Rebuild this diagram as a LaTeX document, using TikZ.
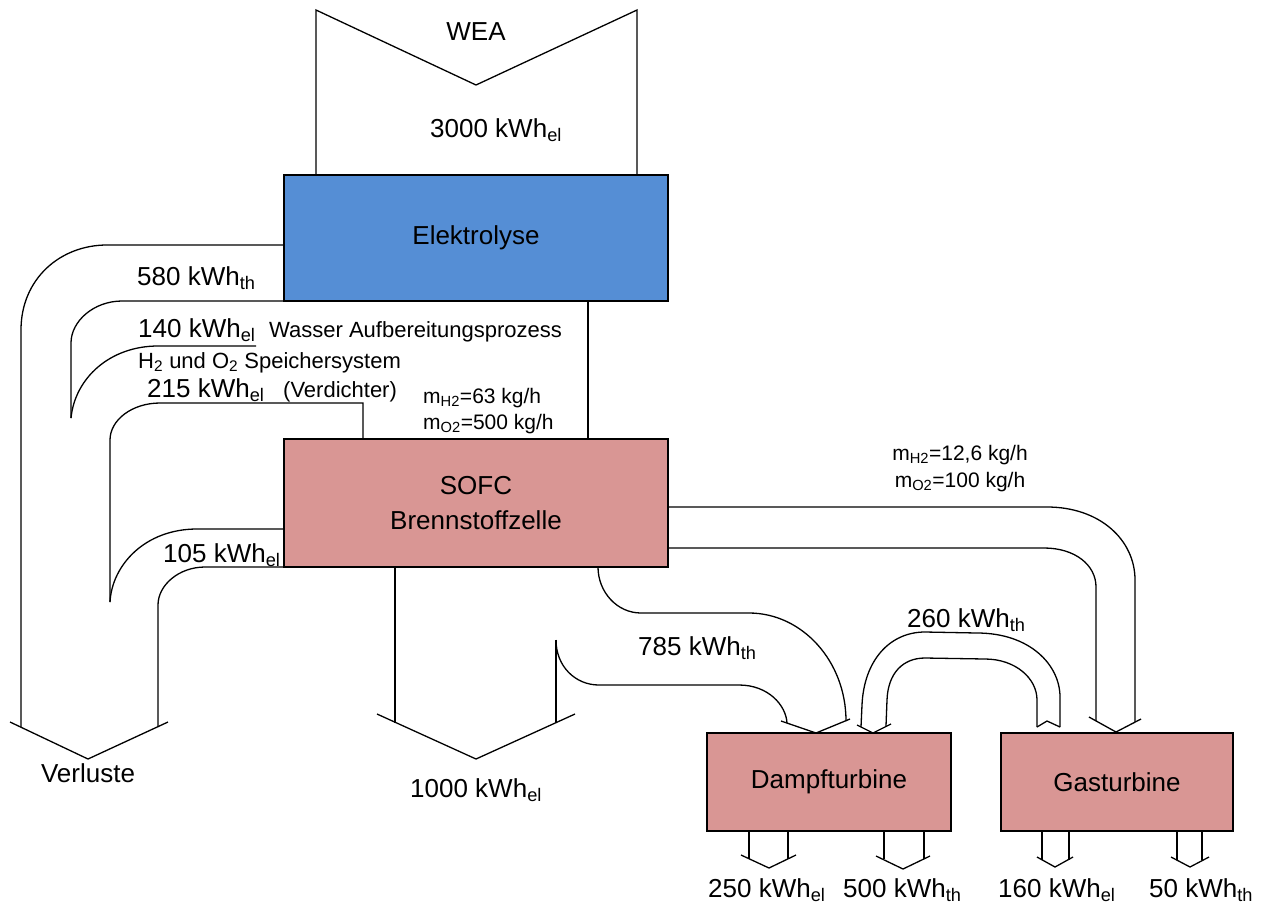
\documentclass[tikz,border=0pt]{standalone}
\usepackage{fontspec}
\setmainfont{Liberation Sans}
\definecolor{elblue}{RGB}{85,142,213}
\definecolor{sofcred}{RGB}{217,150,148}
\newcommand\kwhsub[1]{kWh\textsubscript{#1}}
\tikzset{
  ln/.style={line width=1.3pt, line join=miter},
  procbox/.style={draw, line width=1.3pt, anchor=north west, inner sep=0pt, outer sep=0pt,
    align=center, font=\fontsize{26}{35}\selectfont},
  big/.style={font=\fontsize{26}{30}\selectfont, inner sep=0pt, anchor=base west},
  mid/.style={font=\fontsize{22}{26}\selectfont, inner sep=0pt, anchor=base west},
  small/.style={font=\fontsize{21}{25}\selectfont, inner sep=0pt, anchor=base west},
}
\begin{document}
\begin{tikzpicture}[x=1pt,y=-1pt]
\useasboundingbox (0,0) rectangle (1266,906);

% WEA input
\draw[ln] (316,175) -- (316,10) -- (476,85) -- (637,10) -- (637,175);

% 580 kWh_th
\draw[ln] (284,245) -- (107,245) .. controls (60,245) and (21,279) .. (21,330) -- (21,727);
\draw[ln] (284,301) -- (122,301) .. controls (94,301) and (71,321) .. (71,343) -- (71,418);
% 140 kWh_el
\draw[ln] (256,346) -- (158,346) .. controls (110,346) and (75,378) .. (71,418);
% 215 kWh_el
\draw[ln] (363,439) -- (363,403) -- (160,403) .. controls (132,403) and (110,420) .. (110,440) -- (110,602);
% 105 kWh_el
\draw[ln] (284,529) -- (197,529) .. controls (145,529) and (112,565) .. (110,602);
\draw[ln] (284,567) -- (205,567) .. controls (179,567) and (158,585) .. (158,605) -- (158,727);
% Verluste arrow head
\draw[ln] (10,722) -- (88,759) -- (168,722);

% H2/O2 line
\draw[ln] (588,301) -- (588,439);

% 1000 kWh_el
\draw[ln] (395,567) -- (395,723);
\draw[ln] (556,640) -- (556,723);
\draw[ln] (377,714) -- (476,759) -- (575,714);

% 785 kWh_th
\draw[ln] (598,567) .. controls (598,592) and (617,613) .. (641,613) -- (749,613)
  .. controls (802,613) and (846,661) .. (846,721);
\draw[ln] (556,640) .. controls (556,666) and (575,685) .. (599,685) -- (739,685)
  .. controls (768,685) and (786,705) .. (787,723);
\draw[ln] (781,721) -- (816,733) -- (850,719);

% 260 kWh_th
\draw[ln] (861,727) -- (862,705) .. controls (864,660) and (890,632) .. (925,632) -- (977,633)
  .. controls (1030,633) and (1060,665) .. (1060,697) -- (1060,727);
\draw[ln] (886,726) -- (887,700) .. controls (888,673) and (903,658) .. (925,658) -- (985,659)
  .. controls (1015,659) and (1037,678) .. (1037,700) -- (1037,727);
\draw[ln] (857,725) -- (873,733) -- (891,724);
\draw[ln] (1037,727) -- (1047,721) -- (1060,727);

% SOFC -> Gasturbine
\draw[ln] (668,507) -- (1047,507) .. controls (1100,507) and (1135,540) .. (1135,580) -- (1135,722);
\draw[ln] (668,548) -- (1044,548) .. controls (1075,548) and (1096,565) .. (1096,587) -- (1096,721);
\draw[ln] (1089,717) -- (1116,732) -- (1141,719);

% output arrows
\draw[ln] (749,831) -- (749,859); \draw[ln] (788,831) -- (788,859);
\draw[ln] (741,855) -- (769,868) -- (796,855);
\draw[ln] (884,831) -- (884,859); \draw[ln] (924,831) -- (924,859);
\draw[ln] (876,856) -- (903,869) -- (930,856);
\draw[ln] (1042,831) -- (1042,859.5); \draw[ln] (1069,831) -- (1069,859.5);
\draw[ln] (1037,857) -- (1055,867) -- (1073,857);
\draw[ln] (1177,831) -- (1177,859.5); \draw[ln] (1202,831) -- (1202,859.5);
\draw[ln] (1171,857) -- (1190,867) -- (1209,857);

% boxes
\node[procbox, fill=elblue, minimum width=384pt, minimum height=126pt] (elek) at (284,175) {Elektrolyse};
\node[procbox, fill=sofcred, minimum width=384pt, minimum height=128pt] (sofc) at (284,439) {SOFC\\Brennstoffzelle};
\node[procbox, fill=sofcred, minimum width=244pt, minimum height=98pt] (dampf) at (707,733) {Dampfturbine};
\node[procbox, fill=sofcred, minimum width=232pt, minimum height=98pt] (gas) at (1001,733) {Gasturbine};

% labels
\node[big, anchor=base] (wea) at (476,40) {WEA};
\node[big] (t3000) at (430,137) {3000 \kwhsub{el}};
\node[big] (t580) at (137,285) {580 \kwhsub{th}};
\node[big] (t140) at (138,337) {140 \kwhsub{el}};
\node[mid] (twasser) at (269,337) {Wasser Aufbereitungsprozess};
\node[mid] (tspeicher) at (138,368) {H\textsubscript{2} und O\textsubscript{2} Speichersystem};
\node[big] (t215) at (147,397) {215 \kwhsub{el}};
\node[mid] (tverd) at (283,397) {(Verdichter)};
\node[small] (tmh2a) at (423,403) {m\textsubscript{H2}=63 kg/h};
\node[small] (tmo2a) at (423,429) {m\textsubscript{O2}=500 kg/h};
\node[big] (t105) at (163,562) {105 \kwhsub{el}};
\node[small, anchor=base] (tmh2b) at (960,460) {m\textsubscript{H2}=12,6 kg/h};
\node[small, anchor=base] (tmo2b) at (960,487) {m\textsubscript{O2}=100 kg/h};
\node[big] (t785) at (638,655) {785 \kwhsub{th}};
\node[big] (t260) at (907,627) {260 \kwhsub{th}};
\node[big, anchor=base] (tverl) at (88,782) {Verluste};
\node[big] (t1000) at (410,797) {1000 \kwhsub{el}};
\node[big] (t250) at (708,897) {250 \kwhsub{el}};
\node[big] (t500) at (843,897) {500 \kwhsub{th}};
\node[big] (t160) at (998,897) {160 \kwhsub{el}};
\node[big] (t50) at (1149,897) {50 \kwhsub{th}};
\end{tikzpicture}
\end{document}
